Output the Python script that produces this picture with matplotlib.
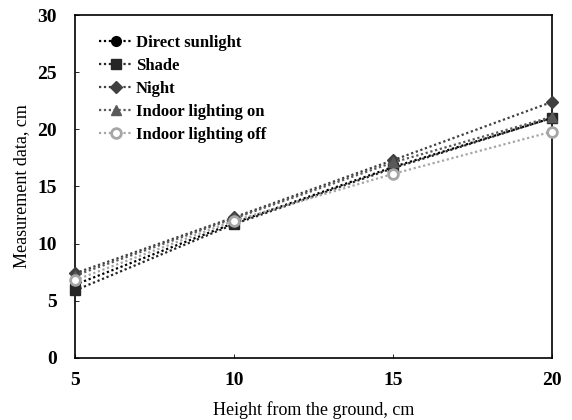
import matplotlib.pyplot as plt

plt.rcParams['font.family'] = ['Liberation Serif', 'DejaVu Serif']

heights = [5, 10, 15, 20]
direct_sunlight = [6.4, 11.8, 16.7, 21.0]
shade = [5.9, 11.7, 16.6, 21.0]
night = [7.4, 12.3, 17.3, 22.4]
indoor_on = [7.2, 12.2, 17.1, 21.1]
indoor_off = [6.8, 12.0, 16.1, 19.8]

series = [
    ('Direct sunlight', direct_sunlight, '#000000', 'o', '#000000'),
    ('Shade', shade, '#262626', 's', '#262626'),
    ('Night', night, '#404040', 'D', '#404040'),
    ('Indoor lighting on', indoor_on, '#595959', '^', '#595959'),
    ('Indoor lighting off', indoor_off, '#A6A6A6', 'o', 'white'),
]

fig = plt.figure(figsize=(5.72, 4.2), dpi=100)
ax = fig.add_axes([0.131, 0.148, 0.834, 0.816])

for name, vals, col, mk, face in series:
    ms = 6 if mk == 'D' else 7
    ax.plot(heights, vals, linestyle=(0, (1, 1.2)), linewidth=1.6, color=col,
            marker=mk, markersize=ms, markerfacecolor=face,
            markeredgecolor=col, markeredgewidth=2 if face == 'white' else 1,
            label=name, clip_on=False, zorder=3)

ax.set_xlim(5, 20)
ax.set_ylim(0, 30)
ax.set_xticks([5, 10, 15, 20])
ax.set_yticks([0, 5, 10, 15, 20, 25, 30])
ax.tick_params(direction='in', length=3, width=0.6, labelsize=14)
ax.tick_params(axis='y', pad=13)
ax.tick_params(axis='x', pad=10)
for lbl in ax.get_xticklabels() + ax.get_yticklabels():
    lbl.set_fontweight('bold')
for sp in ax.spines.values():
    sp.set_linewidth(1.2)

ax.set_xlabel('Height from the ground, cm', fontsize=13, labelpad=9)
ax.set_ylabel('Measurement data, cm', fontsize=13, labelpad=5)

leg = ax.legend(loc='upper left', bbox_to_anchor=(0.02, 0.985), frameon=False,
                prop={'weight': 'bold', 'size': 12}, handlelength=2.0,
                handletextpad=0.2, labelspacing=0.42)

fig.savefig('out.png', dpi=100)
